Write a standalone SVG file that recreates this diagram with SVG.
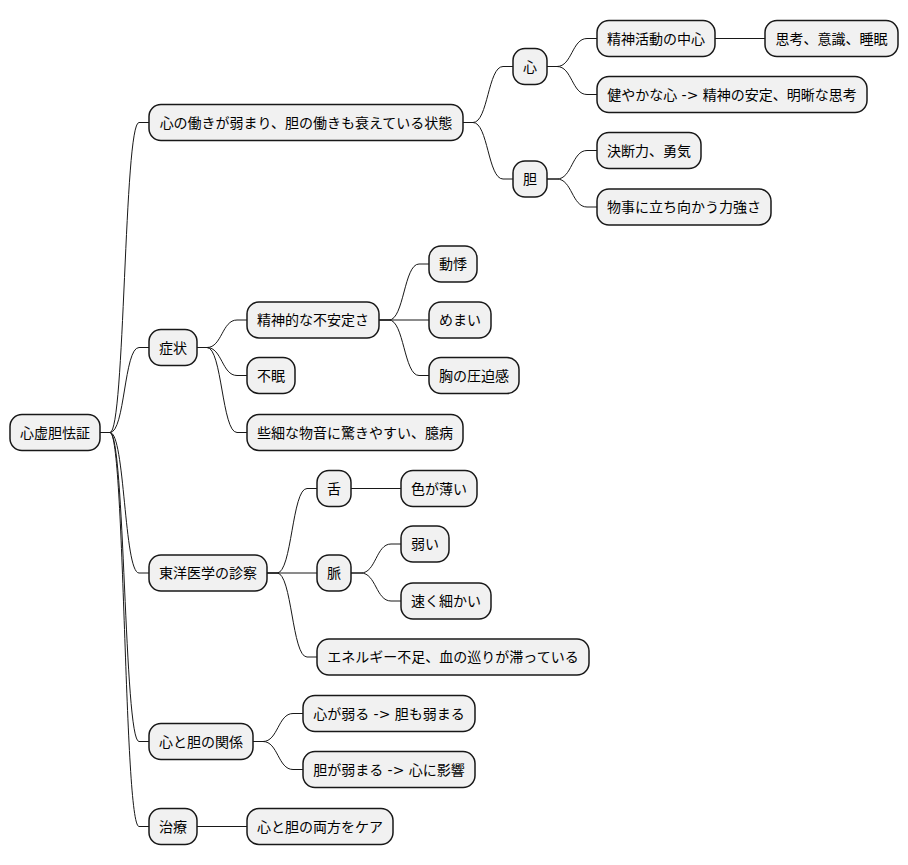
<svg xmlns="http://www.w3.org/2000/svg" width="908" height="865" viewBox="0 0 908 865">
<style>
.n rect{fill:#F1F1F1;stroke:#181818;stroke-width:1.5}
.n text{font-family:"DejaVu Sans","Noto Sans CJK JP",sans-serif;font-size:14px;fill:#000;text-anchor:middle}
#links path{fill:none;stroke:#181818;stroke-width:1}
</style>
<rect width="908" height="865" fill="#FFFFFF"/>
<g id="links">
<path d="M100,432.5 L110,432.5 C125,432.5 124,122.5 139,122.5 L149,122.5"/>
<path d="M100,432.5 L110,432.5 C125,432.5 124,347.5 139,347.5 L149,347.5"/>
<path d="M100,432.5 L110,432.5 C125,432.5 124,573 139,573 L149,573"/>
<path d="M100,432.5 L110,432.5 C125,432.5 124,741.5 139,741.5 L149,741.5"/>
<path d="M100,432.5 L110,432.5 C125,432.5 124,826.5 139,826.5 L149,826.5"/>
<path d="M463,122.5 L473,122.5 C488,122.5 488,66.5 503,66.5 L513,66.5"/>
<path d="M463,122.5 L473,122.5 C488,122.5 488,179 503,179 L513,179"/>
<path d="M547,66.5 L557,66.5 C572,66.5 572,38.5 587,38.5 L597,38.5"/>
<path d="M547,66.5 L557,66.5 C572,66.5 572,94.5 587,94.5 L597,94.5"/>
<path d="M715,38.5 L765,38.5"/>
<path d="M547,179 L557,179 C572,179 572,150.5 587,150.5 L597,150.5"/>
<path d="M547,179 L557,179 C572,179 572,207 587,207 L597,207"/>
<path d="M197,347.5 L207,347.5 C222,347.5 222,320 237,320 L247,320"/>
<path d="M197,347.5 L207,347.5 C222,347.5 222,375.5 237,375.5 L247,375.5"/>
<path d="M197,347.5 L207,347.5 C222,347.5 222,432.5 237,432.5 L247,432.5"/>
<path d="M379,320 L389,320 C404,320 404,264 419,264 L429,264"/>
<path d="M379,320 L429,320"/>
<path d="M379,320 L389,320 C404,320 404,375.5 419,375.5 L429,375.5"/>
<path d="M267,573 L277,573 C292,573 292,488.5 307,488.5 L317,488.5"/>
<path d="M267,573 L317,573"/>
<path d="M267,573 L277,573 C292,573 292,657 307,657 L317,657"/>
<path d="M351,488.5 L401,488.5"/>
<path d="M351,573 L361,573 C376,573 376,544 391,544 L401,544"/>
<path d="M351,573 L361,573 C376,573 376,601 391,601 L401,601"/>
<path d="M253,741.5 L263,741.5 C278,741.5 278,713.5 293,713.5 L303,713.5"/>
<path d="M253,741.5 L263,741.5 C278,741.5 278,769.5 293,769.5 L303,769.5"/>
<path d="M197,826.5 L247,826.5"/>
</g>
<g id="root" class="n"><rect x="10" y="414.5" width="90" height="36" rx="12"/><text x="55" y="437.5">心虚胆怯証</text></g>
<g id="n1" class="n"><rect x="149" y="104.5" width="314" height="36" rx="12"/><text x="306" y="127.5">心の働きが弱まり、胆の働きも衰えている状態</text></g>
<g id="n1a" class="n"><rect x="513" y="48.5" width="34" height="36" rx="12"/><text x="530" y="71.5">心</text></g>
<g id="n1a1" class="n"><rect x="597" y="20.5" width="118" height="36" rx="12"/><text x="656" y="43.5">精神活動の中心</text></g>
<g id="n1a1a" class="n"><rect x="765" y="20.5" width="133" height="36" rx="12"/><text x="831.5" y="43.5">思考、意識、睡眠</text></g>
<g id="n1a2" class="n"><rect x="597" y="76.5" width="270" height="36" rx="12"/><text x="732" y="99.5">健やかな心 -&gt; 精神の安定、明晰な思考</text></g>
<g id="n1b" class="n"><rect x="513" y="161" width="34" height="36" rx="12"/><text x="530" y="184">胆</text></g>
<g id="n1b1" class="n"><rect x="597" y="132.5" width="104" height="36" rx="12"/><text x="649" y="155.5">決断力、勇気</text></g>
<g id="n1b2" class="n"><rect x="597" y="189" width="174" height="36" rx="12"/><text x="684" y="212">物事に立ち向かう力強さ</text></g>
<g id="n2" class="n"><rect x="149" y="329.5" width="48" height="36" rx="12"/><text x="173" y="352.5">症状</text></g>
<g id="n2a" class="n"><rect x="247" y="302" width="132" height="36" rx="12"/><text x="313" y="325">精神的な不安定さ</text></g>
<g id="n2a1" class="n"><rect x="429" y="246" width="48" height="36" rx="12"/><text x="453" y="269">動悸</text></g>
<g id="n2a2" class="n"><rect x="429" y="302" width="62" height="36" rx="12"/><text x="460" y="325">めまい</text></g>
<g id="n2a3" class="n"><rect x="429" y="357.5" width="90" height="36" rx="12"/><text x="474" y="380.5">胸の圧迫感</text></g>
<g id="n2b" class="n"><rect x="247" y="357.5" width="48" height="36" rx="12"/><text x="271" y="380.5">不眠</text></g>
<g id="n2c" class="n"><rect x="247" y="414.5" width="216" height="36" rx="12"/><text x="355" y="437.5">些細な物音に驚きやすい、臆病</text></g>
<g id="n3" class="n"><rect x="149" y="555" width="118" height="36" rx="12"/><text x="208" y="578">東洋医学の診察</text></g>
<g id="n3a" class="n"><rect x="317" y="470.5" width="34" height="36" rx="12"/><text x="334" y="493.5">舌</text></g>
<g id="n3a1" class="n"><rect x="401" y="470.5" width="76" height="36" rx="12"/><text x="439" y="493.5">色が薄い</text></g>
<g id="n3b" class="n"><rect x="317" y="555" width="34" height="36" rx="12"/><text x="334" y="578">脈</text></g>
<g id="n3b1" class="n"><rect x="401" y="526" width="48" height="36" rx="12"/><text x="425" y="549">弱い</text></g>
<g id="n3b2" class="n"><rect x="401" y="583" width="90" height="36" rx="12"/><text x="446" y="606">速く細かい</text></g>
<g id="n3c" class="n"><rect x="317" y="639" width="272" height="36" rx="12"/><text x="453" y="662">エネルギー不足、血の巡りが滞っている</text></g>
<g id="n4" class="n"><rect x="149" y="723.5" width="104" height="36" rx="12"/><text x="201" y="746.5">心と胆の関係</text></g>
<g id="n4a" class="n"><rect x="303" y="695.5" width="172" height="36" rx="12"/><text x="389" y="718.5">心が弱る -&gt; 胆も弱まる</text></g>
<g id="n4b" class="n"><rect x="303" y="751.5" width="172" height="36" rx="12"/><text x="389" y="774.5">胆が弱まる -&gt; 心に影響</text></g>
<g id="n5" class="n"><rect x="149" y="808.5" width="48" height="36" rx="12"/><text x="173" y="831.5">治療</text></g>
<g id="n5a" class="n"><rect x="247" y="808.5" width="146" height="36" rx="12"/><text x="320" y="831.5">心と胆の両方をケア</text></g>
</svg>
